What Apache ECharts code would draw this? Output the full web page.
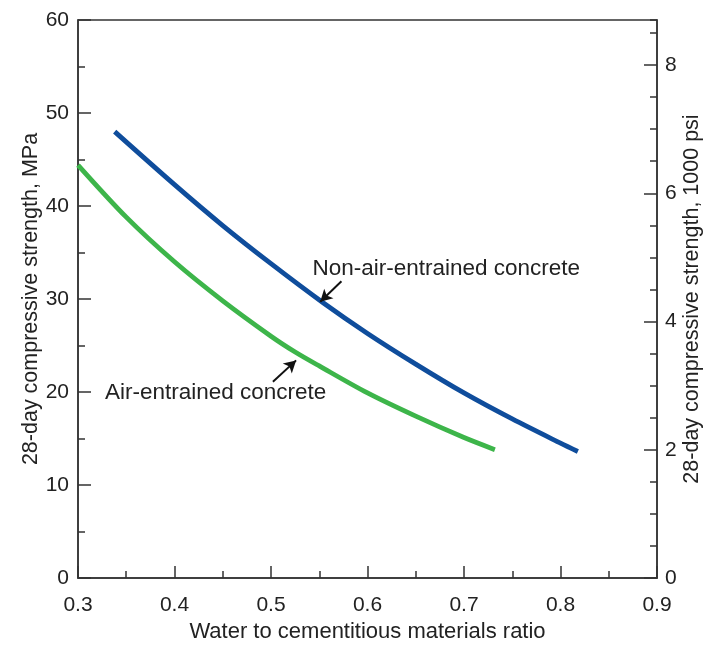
<!DOCTYPE html>
<html>
<head>
<meta charset="utf-8">
<script src="https://cdn.jsdelivr.net/npm/echarts@6/dist/echarts.min.js"></script>
<style>
html,body{margin:0;padding:0;background:#fff;}
#chart{width:714px;height:645px;}
</style>
</head>
<body>
<div id="chart"></div>
<script>
// Non-air-entrained concrete (w/cm ratio, MPa)
const nonAirX = [0.338, 0.40, 0.45, 0.50, 0.554, 0.60, 0.65, 0.70, 0.75, 0.80, 0.818];
const nonAirY = [48.0, 42.3, 37.9, 33.8, 29.6, 26.3, 23.0, 19.9, 17.1, 14.5, 13.6];
// Air-entrained concrete
const airX = [0.30, 0.35, 0.40, 0.45, 0.50, 0.525, 0.55, 0.60, 0.65, 0.70, 0.732];
const airY = [44.4, 38.8, 34.0, 29.8, 26.0, 24.3, 22.8, 19.9, 17.4, 15.1, 13.8];

const xTicks = [0.3, 0.4, 0.5, 0.6, 0.7, 0.8, 0.9];
const mpaTicks = [0, 10, 20, 30, 40, 50, 60];
const ksiTicks = [0, 2, 4, 6, 8];

const labelNonAir = 'Non-air-entrained concrete';
const labelAir = 'Air-entrained concrete';
const xName = 'Water to cementitious materials ratio';
const yNameLeft = '28-day compressive strength, MPa';
const yNameRight = '28-day compressive strength, 1000 psi';

const MPA_PER_KSI = 6.89476;
const FONT = '"Liberation Sans", Arial, Helvetica, sans-serif';
const TXT = '#222';
const AX = '#333';

const chart = echarts.init(document.getElementById('chart'), null, {renderer: 'canvas'});

const pairs = (xs, ys) => xs.map((x, i) => [x, ys[i]]);

const option = {
  animation: false,
  backgroundColor: '#fff',
  grid: {left: 78, right: 57, top: 20, bottom: 67, containLabel: false, outerBoundsMode: 'none',
    show: true, borderColor: AX, borderWidth: 1.5, backgroundColor: 'transparent'},
  xAxis: {
    type: 'value', min: xTicks[0], max: xTicks[xTicks.length - 1], interval: 0.1,
    name: xName, nameLocation: 'middle', nameGap: 43, nameMoveOverlap: false,
    nameTextStyle: {fontFamily: FONT, fontSize: 22, color: TXT},
    axisLine: {show: true, lineStyle: {color: AX, width: 1.5}},
    axisTick: {show: true, inside: true, length: 12, lineStyle: {color: AX, width: 1.5}},
    minorTick: {show: true, splitNumber: 2, length: 7, lineStyle: {color: AX, width: 1.5}},
    splitLine: {show: false},
    axisLabel: {fontFamily: FONT, fontSize: 21, color: TXT, margin: 17, formatter: v => v.toFixed(1)}
  },
  yAxis: [
    {
      type: 'value', min: mpaTicks[0], max: mpaTicks[mpaTicks.length - 1], interval: 10, position: 'left',
      name: yNameLeft, nameLocation: 'middle', nameGap: 36, nameRotate: 90, nameMoveOverlap: false,
      nameTextStyle: {fontFamily: FONT, fontSize: 21.5, color: TXT},
      axisLine: {show: true, lineStyle: {color: AX, width: 1.5}},
      axisTick: {show: true, inside: true, length: 13, lineStyle: {color: AX, width: 1.5}},
      minorTick: {show: true, splitNumber: 2, length: 7, lineStyle: {color: AX, width: 1.5}},
      splitLine: {show: false},
      axisLabel: {fontFamily: FONT, fontSize: 21, color: TXT, margin: 9}
    },
    {
      type: 'value', min: 0, max: mpaTicks[mpaTicks.length - 1] / MPA_PER_KSI, interval: 2, position: 'right',
      name: yNameRight, nameLocation: 'middle', nameGap: 24, nameRotate: 90, nameMoveOverlap: false,
      nameTextStyle: {fontFamily: FONT, fontSize: 21.5, color: TXT},
      axisLine: {show: true, lineStyle: {color: AX, width: 1.5}},
      axisTick: {show: true, inside: true, length: 13, lineStyle: {color: AX, width: 1.5}},
      splitLine: {show: false},
      axisLabel: {fontFamily: FONT, fontSize: 21, color: TXT, margin: 8, showMaxLabel: false,
        formatter: v => (ksiTicks.indexOf(Math.round(v * 1000) / 1000) >= 0 ? String(v) : '')}
    },
    {
      type: 'value', min: 0, max: mpaTicks[mpaTicks.length - 1] / MPA_PER_KSI, interval: 0.5, position: 'right',
      axisLine: {show: false},
      axisTick: {show: true, inside: true, length: 7, lineStyle: {color: AX, width: 1.5}},
      splitLine: {show: false},
      axisLabel: {show: false}
    }
  ],
  series: [
    {
      name: labelNonAir, type: 'line', yAxisIndex: 0, smooth: 0.3, showSymbol: false, symbol: 'none',
      data: pairs(nonAirX, nonAirY),
      lineStyle: {color: '#0f4d9c', width: 4.8, cap: 'butt'},
      z: 3,
      markLine: {
        silent: true, symbol: ['none', 'arrow'], symbolSize: [10, 12],
        lineStyle: {color: '#111', width: 2, type: 'solid'},
        label: {show: false},
        data: [
          [{coord: [0.573, 31.9]}, {coord: [0.551, 29.7]}],
          [{coord: [0.502, 21.1]}, {coord: [0.526, 23.4]}]
        ]
      },
      markPoint: {
        silent: true, symbol: 'circle', symbolSize: 0,
        data: [
          {coord: [0.543, 33.3], value: labelNonAir},
          {coord: [0.328, 19.9], value: labelAir}
        ],
        label: {show: true, position: 'right', distance: 0, formatter: p => p.value,
          fontFamily: FONT, fontSize: 22.5, color: TXT}
      }
    },
    {
      name: labelAir, type: 'line', yAxisIndex: 0, smooth: 0.3, showSymbol: false, symbol: 'none',
      data: pairs(airX, airY),
      lineStyle: {color: '#3db54a', width: 4.8, cap: 'butt'},
      z: 3
    }
  ]
};
chart.setOption(option);
</script>
</body>
</html>
